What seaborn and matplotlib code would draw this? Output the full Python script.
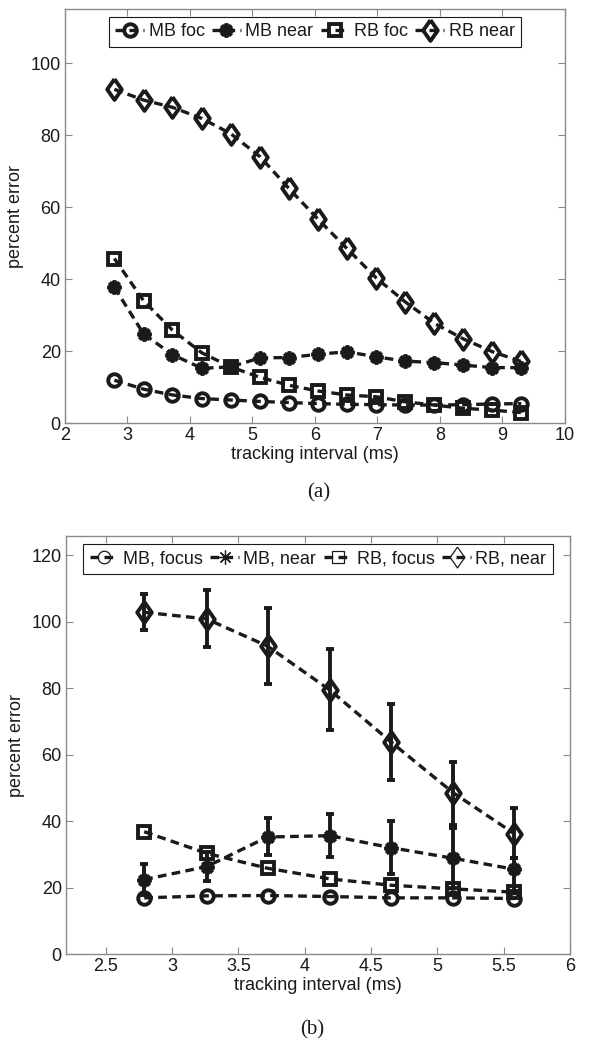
import numpy as np
import pandas as pd
import seaborn as sns
from matplotlib import pyplot as plt
from matplotlib.lines import Line2D

# panel (a): percent error vs tracking interval
interval_a = [2.79, 3.26, 3.72, 4.19, 4.65, 5.12, 5.58, 6.05, 6.51, 6.98, 7.44, 7.91, 8.37, 8.84, 9.30]
mb_foc_a = [11.9, 9.4, 7.8, 6.8, 6.4, 6.0, 5.7, 5.4, 5.2, 5.1, 5.0, 5.0, 5.1, 5.3, 5.4]
mb_near_a = [37.7, 24.7, 19.0, 15.2, 15.6, 18.1, 18.2, 19.1, 19.8, 18.4, 17.2, 16.8, 16.1, 15.4, 15.4]
rb_foc_a = [45.7, 33.9, 25.8, 19.5, 15.6, 12.7, 10.5, 8.9, 7.8, 7.3, 5.9, 5.0, 4.1, 3.6, 2.9]
rb_near_a = [92.7, 89.7, 87.7, 84.6, 80.4, 74.0, 65.2, 56.6, 48.5, 40.3, 33.7, 27.7, 23.4, 19.8, 17.1]

# panel (b): means with error bar ends
interval_b = [2.79, 3.26, 3.72, 4.19, 4.65, 5.12, 5.58]
mb_focus_b = [16.9, 17.5, 17.6, 17.3, 16.9, 16.9, 16.7]
mb_near_b = [22.4, 26.3, 35.2, 35.6, 32.0, 28.8, 25.5]
mb_near_lo = [17.8, 21.9, 29.7, 29.1, 24.0, 19.8, 19.0]
mb_near_hi = [27.2, 30.6, 41.0, 42.2, 40.0, 38.0, 28.8]
rb_focus_b = [36.8, 30.3, 25.8, 22.6, 20.7, 19.6, 18.6]
rb_near_b = [102.8, 100.8, 92.6, 79.4, 63.8, 48.5, 36.2]
rb_near_lo = [97.4, 92.3, 81.3, 67.4, 52.3, 38.8, 28.8]
rb_near_hi = [108.3, 109.6, 104.1, 91.8, 75.3, 57.9, 43.8]

sns.set_theme(style="ticks")
plt.rcParams['font.family'] = ['Liberation Sans', 'DejaVu Sans']
plt.rcParams['xtick.direction'] = 'in'
plt.rcParams['ytick.direction'] = 'in'
plt.rcParams['text.color'] = 'k'
plt.rcParams['axes.labelcolor'] = 'k'

GRAY = '#8a8a8a'
FS = 13
asterisk = (8, 2, 0)
diamond = [(0, 1), (0.7, 0), (0, -1), (-0.7, 0), (0, 1)]
DMS = 15

fig = plt.figure(figsize=(6.12, 10.5), dpi=100)
ax1 = fig.add_axes([0.1062, 0.5971, 0.817, 0.3943])
ax2 = fig.add_axes([0.1078, 0.0914, 0.8235, 0.398])

dash = (2.6, 1.6)
series_a = [("MB foc", mb_foc_a, 'o', 9), ("MB near", mb_near_a, asterisk, 10),
            ("RB foc", rb_foc_a, 's', 8), ("RB near", rb_near_a, diamond, DMS)]
for name, vals, mk, ms in series_a:
    sns.lineplot(x=interval_a, y=vals, ax=ax1, color='k', lw=2.4, marker=mk, ms=ms,
                 mfc='none', mec='k', mew=2.8, dashes=dash, label=name)

ax1.set_xlim(2, 10)
ax1.set_ylim(0, 115)
ax1.set_xticks(range(2, 11))
ax1.set_yticks(range(0, 101, 20))
ax1.set_xlabel("tracking interval (ms)", fontsize=FS, labelpad=1)
ax1.set_ylabel("percent error", fontsize=FS, labelpad=5)
ax1.legend(loc='upper center', ncol=4, fontsize=FS, handlelength=1.6, columnspacing=0.4,
           handletextpad=0.25, borderpad=0.35, borderaxespad=0.45, fancybox=False,
           edgecolor='k', framealpha=1).get_frame().set_linewidth(0.8)

# panel (b)
sns.lineplot(x=interval_b, y=mb_focus_b, ax=ax2, color='k', lw=2.4, marker='o', ms=9,
             mfc='none', mec='k', mew=2.8, dashes=dash)
sns.lineplot(x=interval_b, y=rb_focus_b, ax=ax2, color='k', lw=2.4, marker='s', ms=8,
             mfc='none', mec='k', mew=2.8, dashes=dash)
for mean, lo, hi, mk, ms in [(mb_near_b, mb_near_lo, mb_near_hi, asterisk, 10),
                             (rb_near_b, rb_near_lo, rb_near_hi, diamond, DMS)]:
    m = np.array(mean)
    yerr = [m - np.array(lo), np.array(hi) - m]
    ax2.errorbar(interval_b, m, yerr=yerr, fmt='none', ecolor='k', elinewidth=2.8,
                 capsize=3, capthick=2.8)
    sns.lineplot(x=interval_b, y=mean, ax=ax2, color='k', lw=2.4, marker=mk, ms=ms,
                 mfc='none', mec='k', mew=2.8, dashes=dash)

ax2.set_xlim(2.2, 6)
ax2.set_ylim(0, 125.7)
ax2.set_xticks(np.arange(2.5, 6.01, 0.5))
ax2.set_xticklabels(["2.5", "3", "3.5", "4", "4.5", "5", "5.5", "6"])
ax2.set_yticks(range(0, 121, 20))
ax2.set_xlabel("tracking interval (ms)", fontsize=FS, labelpad=1)
ax2.set_ylabel("percent error", fontsize=FS, labelpad=5)
names_b = ["MB, focus", "MB, near", "RB, focus", "RB, near"]
markers_b = [('o', 9), (asterisk, 10), ('s', 8), (diamond, DMS)]
handles = [Line2D([0], [0], color='k', lw=2.4, dashes=dash, marker=mk, ms=ms,
                  mfc='none', mec='k', mew=0.9) for mk, ms in markers_b]
ax2.legend(handles, names_b, loc='upper center', ncol=4, fontsize=FS, handlelength=1.6,
           columnspacing=0.4, handletextpad=0.25, borderpad=0.35, borderaxespad=0.45,
           fancybox=False, edgecolor='k', framealpha=1).get_frame().set_linewidth(0.8)

for ax in (ax1, ax2):
    for sp in ax.spines.values():
        sp.set_visible(True)
        sp.set_color(GRAY)
        sp.set_linewidth(1)
    ax.tick_params(axis='both', which='both', top=True, right=True, length=5,
                   width=0.8, color=GRAY, labelsize=FS, pad=3, labelcolor='k')

fig.text(0.52, 0.531, "(a)", ha='center', va='center', fontsize=15,
         family=['Liberation Serif', 'DejaVu Serif'])
fig.text(0.51, 0.019, "(b)", ha='center', va='center', fontsize=15,
         family=['Liberation Serif', 'DejaVu Serif'])

fig.savefig("out.png", dpi=100, facecolor='white')
